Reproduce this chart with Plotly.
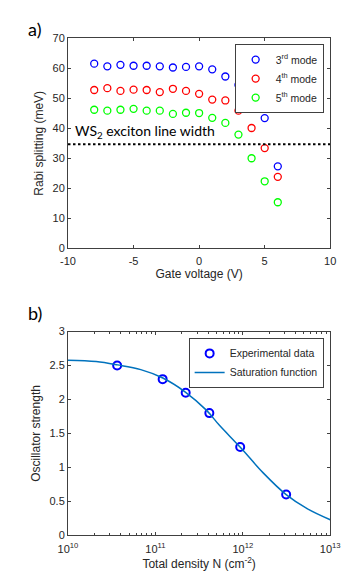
import plotly.graph_objects as go

# ---- Panel a data ----
gate_voltage = [-8, -7, -6, -5, -4, -3, -2, -1, 0, 1, 2, 3, 4, 5, 6]
mode3 = [61.6, 60.7, 61.2, 60.9, 60.9, 60.7, 60.3, 60.5, 60.7, 59.7, 57.3, 54.5, 50.5, 43.4, 27.3]
mode4 = [52.8, 53.4, 52.5, 52.9, 52.8, 52.1, 53.2, 52.5, 51.5, 49.6, 49.3, 45.9, 40.1, 33.4, 23.8]
mode5 = [46.2, 45.9, 46.2, 46.5, 45.9, 45.9, 44.8, 45.2, 45.1, 43.5, 41.8, 37.9, 30.0, 22.3, 15.3]
exciton_linewidth = 34.7
gate_range = [-10, 10]
gate_ticks = [-10, -5, 0, 5, 10]
gate_ticktext = ["-10", "-5", "0", "5", "10"]

# ---- Panel b data ----
density_exp = [3.65e10, 1.21e11, 2.22e11, 4.14e11, 9.33e11, 3.13e12]
osc_exp = [2.50, 2.30, 2.10, 1.80, 1.30, 0.60]
density_fit = [1e10, 2.1e10, 3.7e10, 6.8e10, 1.2e11, 2.2e11, 3.85e11, 5.4e11, 9.3e11, 1.71e12, 3.13e12, 5.5e12, 1e13]
osc_fit = [2.58, 2.56, 2.51, 2.44, 2.32, 2.11, 1.84, 1.62, 1.30, 0.92, 0.60, 0.39, 0.23]
density_ticks = [1e10, 1e11, 1e12, 1e13]
density_ticktext = ["10<sup>10</sup>", "10<sup>11</sup>", "10<sup>12</sup>", "10<sup>13</sup>"]
density_minor = [m * d for d in [1e10, 1e11, 1e12] for m in range(2, 10)]

FONT = "Liberation Sans, Arial, sans-serif"
AX = "#404040"
TXT = "#262626"

fig = go.Figure()

fig.add_trace(go.Scatter(x=gate_voltage, y=mode3, mode="markers", name="3<sup>rd</sup> mode",
                         marker=dict(symbol="circle-open", size=7, color="#0000FF", line=dict(width=1.3)),
                         xaxis="x", yaxis="y", legend="legend"))
fig.add_trace(go.Scatter(x=gate_voltage, y=mode4, mode="markers", name="4<sup>th</sup> mode",
                         marker=dict(symbol="circle-open", size=7, color="#FF0000", line=dict(width=1.3)),
                         xaxis="x", yaxis="y", legend="legend"))
fig.add_trace(go.Scatter(x=gate_voltage, y=mode5, mode="markers", name="5<sup>th</sup> mode",
                         marker=dict(symbol="circle-open", size=7, color="#00FF00", line=dict(width=1.3)),
                         xaxis="x", yaxis="y", legend="legend"))
fig.add_trace(go.Scatter(x=gate_range, y=[exciton_linewidth, exciton_linewidth], mode="lines",
                         line=dict(color="black", width=2, dash="2.5px,2.5px"), showlegend=False,
                         xaxis="x", yaxis="y", cliponaxis=False))

fig.add_trace(go.Scatter(x=density_exp, y=osc_exp, mode="markers", name="Experimental data",
                         marker=dict(symbol="circle-open", size=8, color="#0000FF", line=dict(width=2)),
                         xaxis="x2", yaxis="y2", legend="legend2"))
fig.add_trace(go.Scatter(x=density_fit, y=osc_fit, mode="lines", name="Saturation function",
                         line=dict(color="#0072BD", width=1.5, shape="spline"),
                         xaxis="x2", yaxis="y2", legend="legend2"))

axis_common = dict(showline=True, linecolor=AX, linewidth=1, mirror="ticks", ticks="inside",
                   ticklen=3, tickcolor=AX, showgrid=False, zeroline=False,
                   tickfont=dict(family=FONT, size=11, color=TXT))
title_font = dict(size=12, family=FONT, color=TXT)

dx = [53 / 353, 331 / 353]
fig.update_layout(
    width=353, height=582,
    margin=dict(l=0, r=0, t=0, b=0),
    paper_bgcolor="white", plot_bgcolor="white",
    font=dict(family=FONT, color=TXT),
    xaxis=dict(domain=dx, anchor="y", range=gate_range, tickvals=gate_ticks, ticktext=gate_ticktext,
               ticklabelstandoff=3,
               title=dict(text="Gate voltage (V)", font=title_font, standoff=0),
               **axis_common),
    yaxis=dict(domain=[1 - 239 / 582, 1 - 25 / 582], anchor="x", range=[0, 70],
               tickvals=[0, 10, 20, 30, 40, 50, 60, 70],
               title=dict(text="Rabi splitting (meV)", font=title_font, standoff=6),
               **axis_common),
    xaxis2=dict(domain=dx, anchor="y2", type="log", range=[10, 13],
                tickvals=density_ticks, ticktext=density_ticktext, ticklabelstandoff=3,
                minor=dict(ticks="inside", ticklen=2, tickcolor=AX, showgrid=False, tickvals=density_minor),
                title=dict(text="Total density N (cm<sup>-2</sup>)", font=title_font, standoff=0),
                **axis_common),
    yaxis2=dict(domain=[1 - 532.3 / 582, 1 - 324.3 / 582], anchor="x2", range=[0, 3],
                tickvals=[0, 0.5, 1, 1.5, 2, 2.5, 3],
                ticktext=["0", "0.5", "1", "1.5", "2", "2.5", "3"],
                title=dict(text="Oscillator strength", font=title_font, standoff=6),
                **axis_common),
    legend=dict(x=324 / 353, y=1 - 30.7 / 582, xanchor="right", yanchor="top",
                bgcolor="white", bordercolor=AX, borderwidth=1,
                font=dict(family=FONT, size=10.5, color=TXT), tracegroupgap=0, itemwidth=30),
    legend2=dict(x=324 / 353, y=1 - 330.7 / 582, xanchor="right", yanchor="top",
                 bgcolor="white", bordercolor=AX, borderwidth=1,
                 font=dict(family=FONT, size=10.5, color=TXT), tracegroupgap=0, itemwidth=30),
    showlegend=True,
)

fig.add_annotation(x=-9.6, y=38.9, xref="x", yref="y", xanchor="left", yanchor="middle",
                   text="WS<sub>2</sub> exciton line width", showarrow=False,
                   font=dict(family="Lato, Open Sans, sans-serif", size=14, color="black"))
fig.add_annotation(x=8 / 353, y=1 - 15 / 582, xref="paper", yref="paper", xanchor="left", yanchor="middle",
                   text="a)", showarrow=False, font=dict(family="Lato, Open Sans, sans-serif", size=18, color="black"))
fig.add_annotation(x=8 / 353, y=1 - 305 / 582, xref="paper", yref="paper", xanchor="left", yanchor="middle",
                   text="b)", showarrow=False, font=dict(family="Lato, Open Sans, sans-serif", size=18, color="black"))

fig.write_html("out.html")
